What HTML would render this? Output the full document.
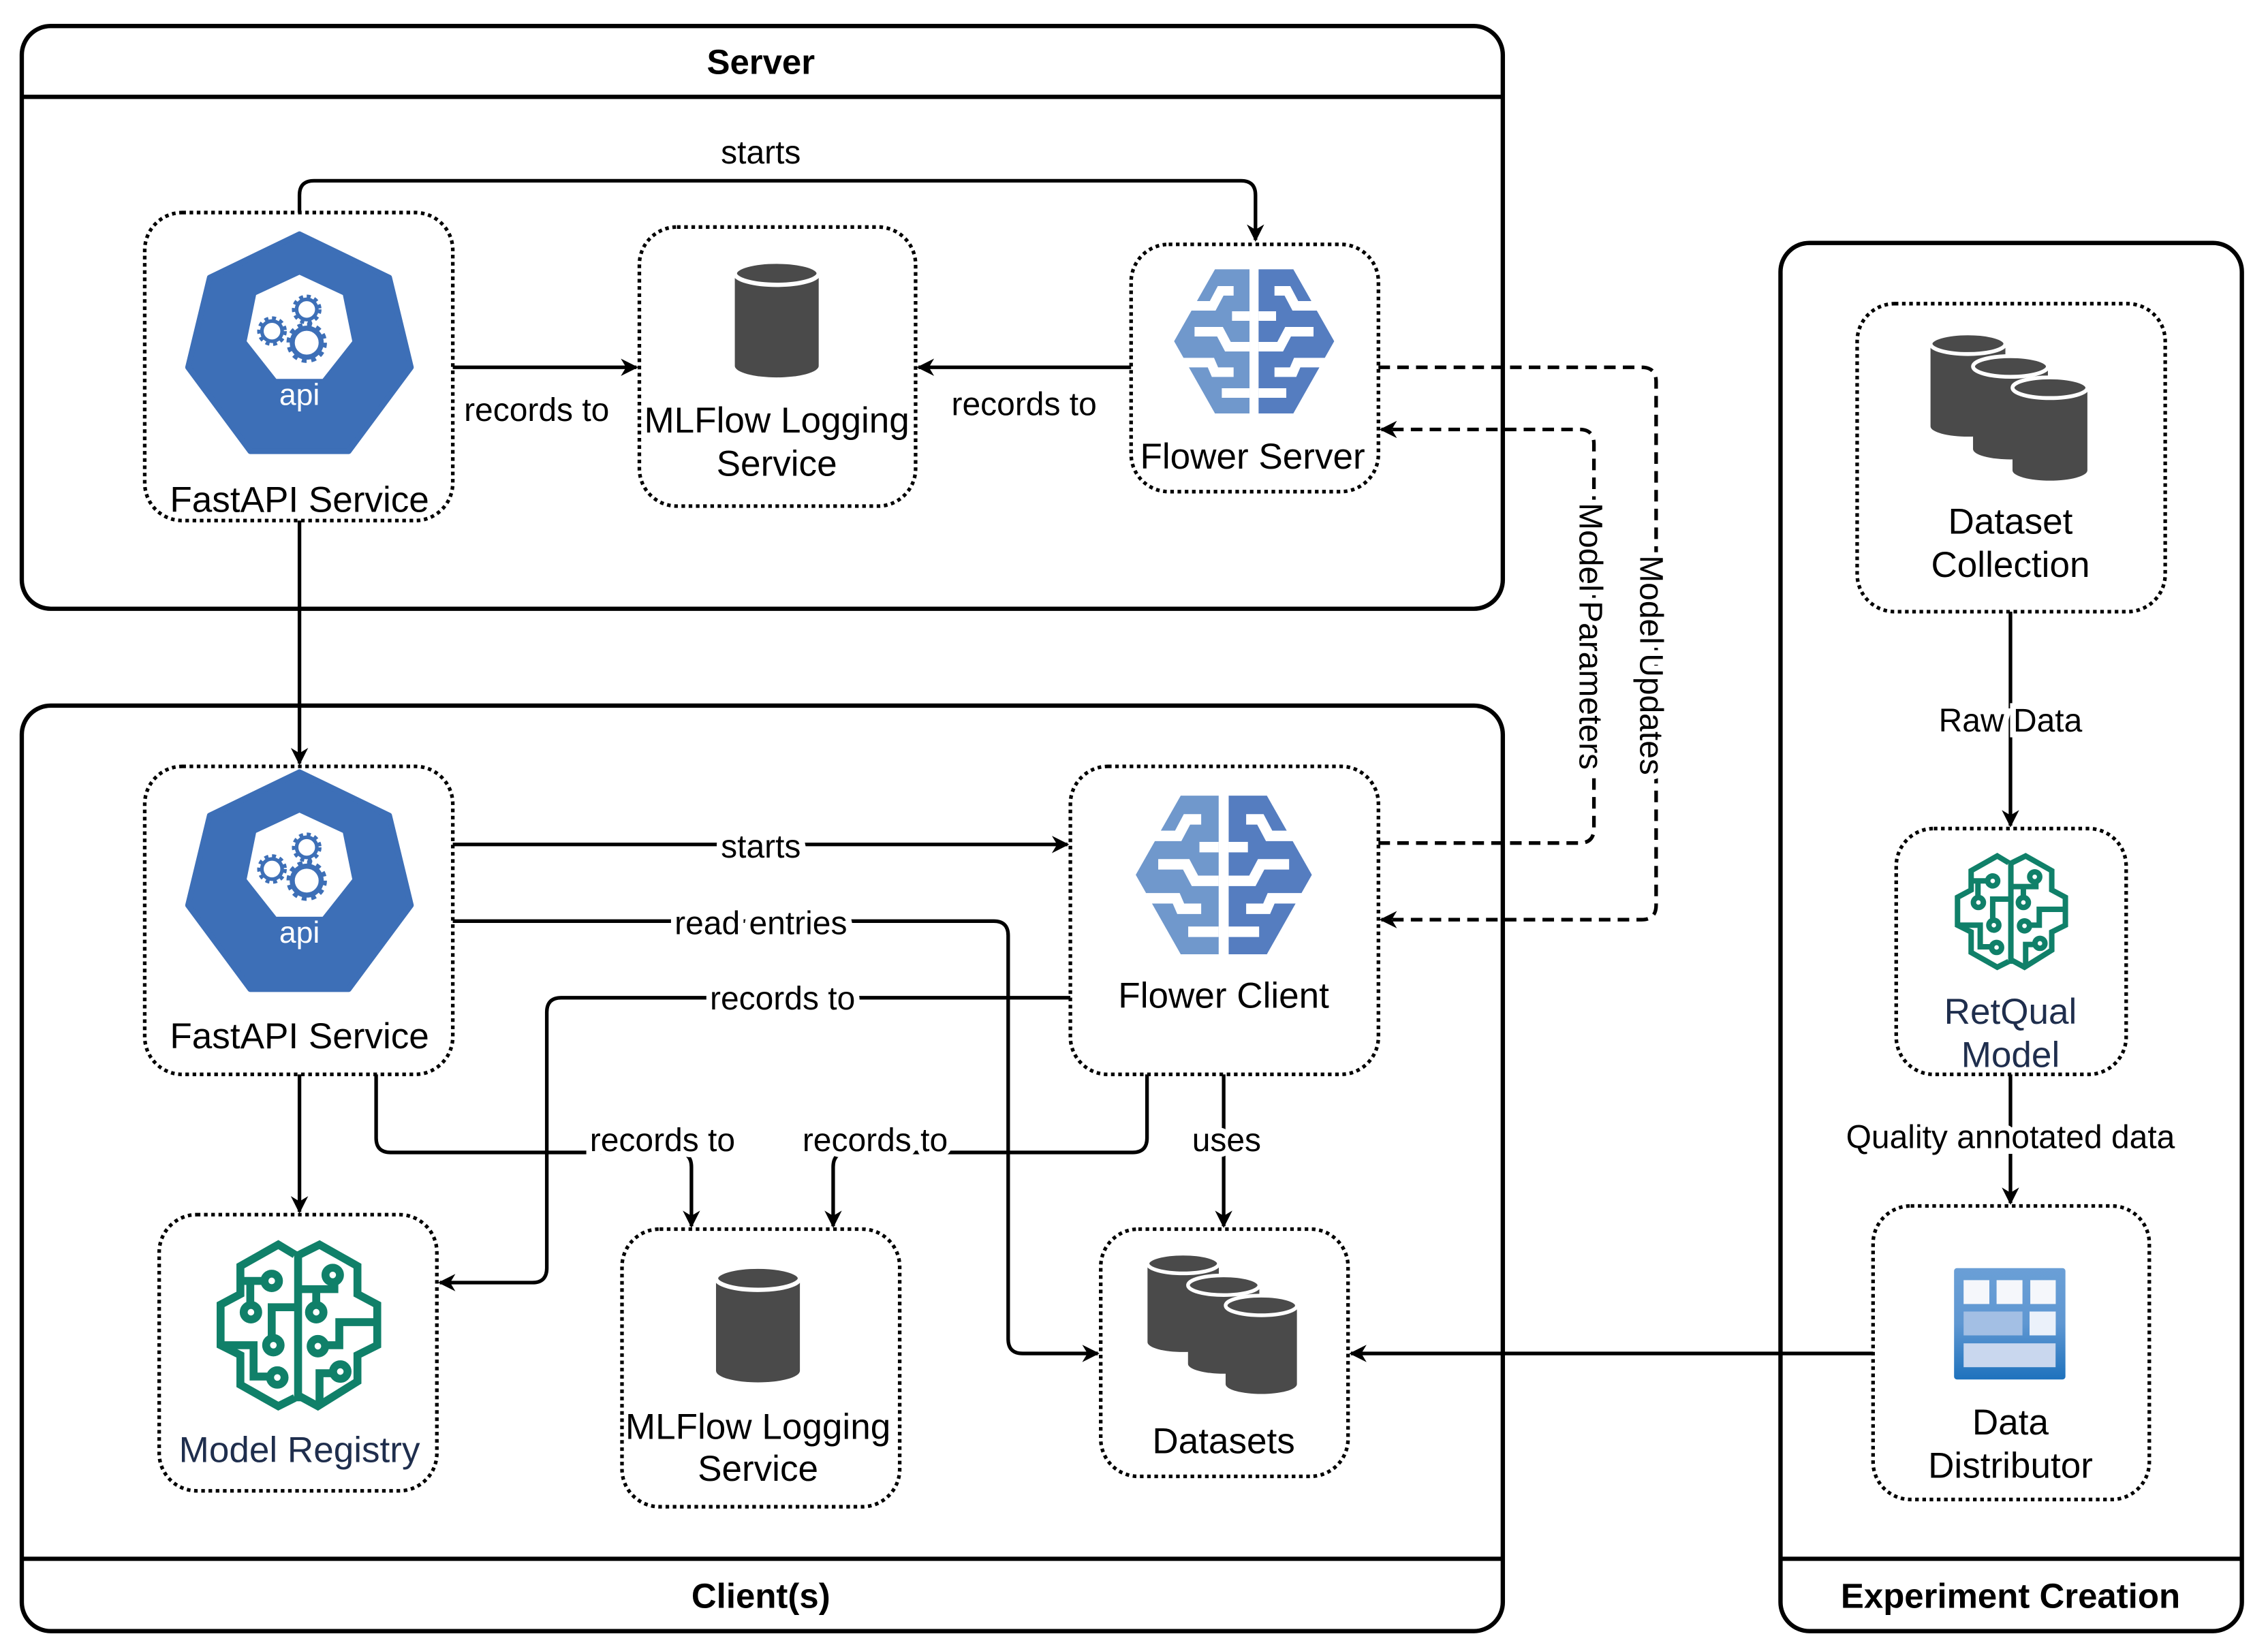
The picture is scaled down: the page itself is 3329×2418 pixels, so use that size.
<!DOCTYPE html>
<html><head><meta charset="utf-8"><style>html,body{margin:0;padding:0;background:#fff}svg{display:block}</style></head>
<body>
<svg width="3329" height="2418" viewBox="0 0 1568 1139" xmlns="http://www.w3.org/2000/svg" font-family="'Liberation Sans', sans-serif">
<defs>
<linearGradient id="gd" x1="0" y1="0" x2="0" y2="1"><stop offset="0" stop-color="#6A9FD6"/><stop offset="0.5" stop-color="#5F97D2"/><stop offset="1" stop-color="#1E72BD"/></linearGradient>
<marker id="ar" viewBox="0 0 10 10" refX="9" refY="5" markerWidth="12" markerHeight="12" markerUnits="userSpaceOnUse" orient="auto"><path d="M0,0 L10,5 L0,10 L3,5 z" fill="#000"/></marker>
<g id="api">
<polygon points="0,-75 62,-45 77,17 34,75 -34,75 -77,17 -62,-45" fill="#3D6FB7" stroke="#3D6FB7" stroke-width="4" stroke-linejoin="round"/>
<polygon points="0,-47 30,-33 36.5,-1 16,25 -16,25 -36.5,-1 -30,-33" fill="#fff"/>
<g fill="none" stroke="#3D6FB7">
<circle cx="5" cy="0" r="12" stroke-width="4" stroke-dasharray="3.2 3.1"/><circle cx="5" cy="0" r="10" stroke-width="3.5"/>
<circle cx="-19" cy="-8" r="8.5" stroke-width="3.5" stroke-dasharray="2.6 2.4"/><circle cx="-19" cy="-8" r="7" stroke-width="2.5"/>
<circle cx="5" cy="-23" r="8.5" stroke-width="3.5" stroke-dasharray="2.6 2.4"/><circle cx="5" cy="-23" r="7" stroke-width="2.5"/>
</g>
<text x="0" y="43" font-size="21" fill="#fff" text-anchor="middle">api</text>
</g>
<g id="brain">
<g transform="scale(0.157) translate(-602,-422)">
<polygon points="430,105 582,105 582,740 430,740 250,422" fill="#7098CC"/>
<polygon points="622,105 775,105 955,422 775,740 622,740" fill="#557DC0"/>
<g stroke="#fff" stroke-width="42" fill="none">
<path d="M290,266 L420,266 L455,200 L512,200"/>
<path d="M505,311 L582,311"/>
<path d="M340,380 L452,380 L487,446 L582,446"/>
<path d="M260,516 L412,516 L430,558 L512,558"/>
<path d="M460,650 L582,650"/>
<path d="M914,266 L784,266 L749,200 L692,200"/>
<path d="M699,311 L622,311"/>
<path d="M864,380 L752,380 L717,446 L622,446"/>
<path d="M944,516 L792,516 L774,558 L692,558"/>
<path d="M744,650 L622,650"/>
</g></g></g>
<g id="gbrain"><g transform="translate(-367,-325)" fill="none" stroke="#108069" stroke-width="24" stroke-linejoin="miter">
<path d="M355,110 L305,80 L190,145 L190,230 L130,262 L130,385 L190,415 L190,505 L305,570 L355,545"/>
<path d="M370,110 L430,80 L545,145 L545,230 L605,262 L605,385 L545,415 L545,495 L425,570 L370,540"/>
<path d="M365,100 L365,555"/>
<path d="M190,190 L262,190 M220,190 L220,262 M355,270 L285,270 L285,362 M130,385 L230,385 L230,480 L278,480"/>
<path d="M375,215 L475,215 L475,195 M420,215 L420,262 M605,315 L490,315 L490,385 L448,385 M430,560 L430,470 L470,470"/>
<circle cx="285" cy="190" r="22"/><circle cx="222" cy="285" r="22"/><circle cx="290" cy="385" r="22"/><circle cx="302" cy="483" r="22"/>
<circle cx="470" cy="172" r="22"/><circle cx="420" cy="285" r="22"/><circle cx="425" cy="388" r="22"/><circle cx="493" cy="465" r="22"/>
</g></g>
<g id="cyl"><path d="M-29,-32 L-29,32 A29,8 0 0 0 29,32 L29,-32 Z" fill="#4A4A4A"/><ellipse cx="0" cy="-32" rx="29" ry="8" fill="#4A4A4A" stroke="#fff" stroke-width="3"/></g>
<g id="cyls">
<g transform="translate(-28,-15) scale(0.85)"><use href="#cyl"/></g>
<g transform="translate(0,0) scale(0.85)"><use href="#cyl"/></g>
<g transform="translate(26,14) scale(0.85)"><use href="#cyl"/></g>
</g>
</defs>
<g fill="none" stroke="#000" stroke-width="3">
<rect x="15" y="18" width="1024" height="403" rx="20"/><line x1="15" y1="67" x2="1039" y2="67"/>
<rect x="15" y="488" width="1024" height="640" rx="20"/><line x1="15" y1="1078" x2="1039" y2="1078"/>
<rect x="1231" y="168" width="319" height="960" rx="20"/><line x1="1231" y1="1078" x2="1550" y2="1078"/>
</g>
<g font-size="24" font-weight="bold" text-anchor="middle">
<text x="526" y="51">Server</text><text x="526" y="1112">Client(s)</text><text x="1390" y="1112">Experiment Creation</text>
</g>
<g fill="none" stroke="#000" stroke-width="2.5" stroke-dasharray="2.5 2.5">
<rect x="100" y="147" width="213" height="213" rx="26"/>
<rect x="442" y="157" width="191" height="193" rx="26"/>
<rect x="782" y="169" width="171" height="171" rx="26"/>
<rect x="100" y="530" width="213" height="213" rx="26"/>
<rect x="740" y="530" width="213" height="213" rx="26"/>
<rect x="110" y="840" width="192" height="191" rx="26"/>
<rect x="430" y="850" width="192" height="192" rx="26"/>
<rect x="761" y="850" width="171" height="171" rx="26"/>
<rect x="1284" y="210" width="213" height="213" rx="26"/>
<rect x="1311" y="573" width="159" height="170" rx="26"/>
<rect x="1295" y="834" width="191" height="203" rx="26"/>
</g>
<use href="#api" x="207" y="237"/>
<use href="#api" x="207" y="609"/>
<use href="#brain" x="867" y="236"/>
<g transform="translate(846,605) scale(1.1)"><use href="#brain"/></g>
<use href="#cyl" x="537" y="221"/>
<use href="#cyl" x="524" y="916"/>
<use href="#cyls" x="846" y="916"/>
<g transform="translate(1390,282) scale(1.05)"><use href="#cyls"/></g>
<g transform="translate(206.5,916.6) scale(0.228)"><use href="#gbrain"/></g>
<g transform="translate(1390.6,630.4) scale(0.157)"><use href="#gbrain"/></g>
<g transform="translate(1351,877)">
<rect width="77" height="77" rx="2" fill="url(#gd)"/>
<rect x="6.6" y="8.3" width="17.8" height="16.5" fill="#F5F7FB"/><rect x="29.4" y="8.3" width="17.9" height="16.5" fill="#F5F7FB"/><rect x="52.7" y="8.3" width="17.6" height="16.5" fill="#F5F7FB"/>
<rect x="6.6" y="30" width="40.7" height="16.5" fill="#A3BFE4"/><rect x="52.2" y="30" width="18.1" height="16.5" fill="#EBF1FA"/>
<rect x="6.6" y="52" width="63.6" height="16.5" fill="#C9D7EE"/>
</g>
<g font-size="25" text-anchor="middle" fill="#000">
<text x="207" y="354">FastAPI Service</text>
<text x="537" y="299">MLFlow Logging</text><text x="537" y="329">Service</text>
<text x="866" y="324">Flower Server</text>
<text x="207" y="725">FastAPI Service</text>
<text x="846" y="697">Flower Client</text>
<text x="207" y="1011" fill="#1F2E4D">Model Registry</text>
<text x="524" y="995">MLFlow Logging</text><text x="524" y="1024">Service</text>
<text x="846" y="1005">Datasets</text>
<text x="1390" y="369">Dataset</text><text x="1390" y="399">Collection</text>
<text x="1390" y="708" fill="#1F2E4D">RetQual</text><text x="1390" y="738" fill="#1F2E4D">Model</text>
<text x="1390" y="992">Data</text><text x="1390" y="1022">Distributor</text>
</g>
<g fill="none" stroke="#000" stroke-width="2.5">
<path d="M207,147 L207,135 Q207,125 217,125 L858,125 Q868,125 868,135 L868,166" marker-end="url(#ar)"/>
<path d="M313,254 L440,254" marker-end="url(#ar)"/>
<path d="M782,254 L635,254" marker-end="url(#ar)"/>
<path d="M207,360 L207,528" marker-end="url(#ar)"/>
<path d="M313,584 L738,584" marker-end="url(#ar)"/>
<path d="M313,637 L687,637 Q697,637 697,647 L697,926 Q697,936 707,936 L759,936" marker-end="url(#ar)"/>
<path d="M740,690 L388,690 Q378,690 378,700 L378,877 Q378,887 368,887 L304,887" marker-end="url(#ar)"/>
<path d="M260,743 L260,787 Q260,797 270,797 L468,797 Q478,797 478,807 L478,848" marker-end="url(#ar)"/>
<path d="M793,743 L793,787 Q793,797 783,797 L586,797 Q576,797 576,807 L576,848" marker-end="url(#ar)"/>
<path d="M846,743 L846,848" marker-end="url(#ar)"/>
<path d="M207,743 L207,838" marker-end="url(#ar)"/>
<path d="M1390,423 L1390,571" marker-end="url(#ar)"/>
<path d="M1390,743 L1390,832" marker-end="url(#ar)"/>
<path d="M1295,936 L934,936" marker-end="url(#ar)"/>
<g stroke-dasharray="8 5">
<path d="M953,254 L1135,254 Q1145,254 1145,264 L1145,626 Q1145,636 1135,636 L955,636" marker-end="url(#ar)"/>
<path d="M953,583 L1092,583 Q1102,583 1102,573 L1102,307 Q1102,297 1092,297 L955,297" marker-end="url(#ar)"/>
</g>
</g>
<g font-size="22.6" text-anchor="middle" fill="#000" stroke="#fff" stroke-width="8" paint-order="stroke">
<text x="526" y="113">starts</text>
<text x="371" y="291">records to</text>
<text x="708" y="287">records to</text>
<text x="526" y="593">starts</text>
<text x="526" y="646">read entries</text>
<text x="541" y="698">records to</text>
<text x="458" y="796">records to</text>
<text x="605" y="796">records to</text>
<text x="848" y="796">uses</text>
<text x="1390" y="506">Raw Data</text>
<text x="1390" y="794">Quality annotated data</text>
<text transform="translate(1134,460) rotate(90)">Model Updates</text>
<text transform="translate(1092,440) rotate(90)">Model Parameters</text>
</g>
</svg>
</body></html>
